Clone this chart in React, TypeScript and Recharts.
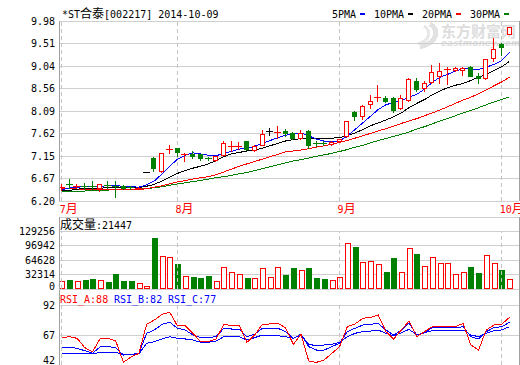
import React from 'react';
import { ComposedChart, Bar, Line, XAxis, YAxis, CartesianGrid, ReferenceLine } from 'recharts';

// ---------------- data ----------------
const stockName = '*ST合泰';
const stockCode = '002217';
const dateLabel = '2014-10-09';
const volumeTitle = '成交量';
const rsiNames = ['RSI_A', 'RSI_B', 'RSI_C'];
const rsiLastLabels = [88, 82, 77];
const maNames = ['5PMA', '10PMA', '20PMA', '30PMA'];

const months = ['7月', '8月', '9月', '10月'];
const monthStartIndex = [0, 15, 36, 57];

const priceTickLabels = ['6.20', '6.67', '7.15', '7.62', '8.09', '8.56', '9.04', '9.51', '9.98'];
const volumeTickLabels = ['0', '32314', '64628', '96942', '129256'];
const rsiTickLabels = ['42', '67', '92'];

const open = [6.49, 6.57, 6.51, 6.51, 6.51, 6.48, 6.55, 6.52, 6.51, 6.50, 6.46, 6.80, 7.10, 6.82, 7.28, 7.31, 7.18, 7.18, 7.18, 7.11, 7.06, 7.17, 7.35, 7.35, 7.45, 7.27, 7.38, 7.68, 7.65, 7.67, 7.62, 7.53, 7.66, 7.43, 7.42, 7.39, 7.46, 7.57, 8.07, 7.99, 8.24, 8.37, 8.36, 8.36, 8.16, 8.32, 8.72, 8.58, 8.70, 8.83, 8.97, 8.95, 8.95, 9.02, 8.82, 8.78, 9.21, 9.49, 9.71];
const high = [6.55, 6.66, 6.55, 6.58, 6.62, 6.55, 6.61, 6.62, 6.53, 6.51, 6.50, 6.80, 7.12, 7.20, 7.38, 7.32, 7.21, 7.24, 7.19, 7.13, 7.15, 7.46, 7.46, 7.44, 7.46, 7.37, 7.69, 7.74, 7.78, 7.72, 7.64, 7.69, 7.69, 7.45, 7.45, 7.45, 7.51, 7.89, 8.08, 8.21, 8.43, 8.64, 8.40, 8.39, 8.43, 8.78, 8.79, 8.72, 9.06, 9.10, 9.02, 9.02, 9.02, 9.04, 8.88, 9.18, 9.63, 9.51, 9.86];
const low = [6.43, 6.47, 6.48, 6.45, 6.45, 6.40, 6.47, 6.29, 6.46, 6.46, 6.45, 6.80, 6.84, 6.81, 7.20, 7.15, 7.05, 7.10, 7.06, 7.06, 7.05, 7.16, 7.25, 7.29, 7.27, 7.26, 7.37, 7.59, 7.52, 7.56, 7.50, 7.50, 7.31, 7.36, 7.37, 7.38, 7.44, 7.55, 7.90, 7.92, 8.15, 8.30, 8.27, 8.06, 8.14, 8.30, 8.50, 8.50, 8.67, 8.67, 8.65, 8.92, 8.85, 8.82, 8.67, 8.77, 9.13, 9.27, 9.71];
const close = [6.50, 6.56, 6.52, 6.50, 6.50, 6.55, 6.54, 6.51, 6.47, 6.47, 6.48, 6.80, 6.90, 7.20, 7.29, 7.22, 7.19, 7.14, 7.10, 7.10, 7.145, 7.41, 7.36, 7.36, 7.29, 7.36, 7.61, 7.68, 7.66, 7.62, 7.53, 7.635, 7.38, 7.41, 7.40, 7.445, 7.50, 7.88, 7.99, 8.195, 8.30, 8.39, 8.29, 8.11, 8.36, 8.76, 8.55, 8.67, 8.90, 8.93, 8.98, 9.00, 9.00, 8.83, 8.78, 9.18, 9.39, 9.44, 9.86];

const ma5 = [6.44, 6.47, 6.49, 6.50, 6.50, 6.51, 6.52, 6.52, 6.51, 6.50, 6.49, 6.54, 6.62, 6.77, 6.93, 7.08, 7.16, 7.21, 7.19, 7.16, 7.15, 7.20, 7.24, 7.29, 7.31, 7.35, 7.41, 7.47, 7.53, 7.58, 7.61, 7.63, 7.57, 7.50, 7.46, 7.45, 7.46, 7.57, 7.70, 7.84, 7.98, 8.12, 8.22, 8.27, 8.31, 8.38, 8.44, 8.55, 8.69, 8.80, 8.86, 8.93, 8.98, 8.97, 8.96, 9.01, 9.07, 9.15, 9.32];
const ma10 = [6.41, 6.42, 6.45, 6.46, 6.47, 6.47, 6.48, 6.48, 6.48, 6.48, 6.48, 6.51, 6.55, 6.62, 6.70, 6.78, 6.84, 6.89, 6.93, 6.98, 7.05, 7.13, 7.19, 7.22, 7.25, 7.27, 7.31, 7.36, 7.41, 7.46, 7.49, 7.51, 7.52, 7.52, 7.51, 7.52, 7.53, 7.57, 7.63, 7.70, 7.78, 7.84, 7.90, 7.97, 8.05, 8.16, 8.25, 8.33, 8.43, 8.51, 8.58, 8.63, 8.67, 8.73, 8.80, 8.86, 8.94, 9.02, 9.13];
const ma20 = [6.46, 6.46, 6.45, 6.45, 6.45, 6.44, 6.44, 6.44, 6.44, 6.44, 6.44, 6.46, 6.49, 6.52, 6.56, 6.60, 6.63, 6.66, 6.69, 6.71, 6.75, 6.81, 6.87, 6.93, 6.98, 7.03, 7.08, 7.13, 7.18, 7.23, 7.25, 7.27, 7.30, 7.33, 7.36, 7.39, 7.43, 7.47, 7.52, 7.57, 7.62, 7.67, 7.72, 7.77, 7.83, 7.88, 7.93, 7.99, 8.05, 8.11, 8.18, 8.25, 8.32, 8.38, 8.45, 8.53, 8.62, 8.70, 8.80];
const ma30 = [6.40, 6.40, 6.41, 6.41, 6.42, 6.42, 6.43, 6.44, 6.44, 6.45, 6.45, 6.46, 6.48, 6.50, 6.53, 6.56, 6.58, 6.61, 6.63, 6.66, 6.69, 6.71, 6.74, 6.77, 6.80, 6.84, 6.88, 6.92, 6.96, 7.00, 7.04, 7.07, 7.10, 7.14, 7.17, 7.20, 7.24, 7.28, 7.33, 7.37, 7.42, 7.47, 7.51, 7.56, 7.60, 7.65, 7.71, 7.76, 7.82, 7.88, 7.93, 7.99, 8.05, 8.10, 8.16, 8.22, 8.28, 8.33, 8.39];

const volume = [17800, 20000, 18000, 20000, 22000, 20000, 15600, 33000, 18000, 18000, 12600, 6700, 114000, 73500, 70600, 55700, 29000, 26700, 24500, 29000, 17800, 48000, 37000, 32700, 24500, 24500, 47500, 26000, 48000, 31000, 47500, 42000, 47500, 24500, 22000, 19000, 26700, 102000, 93600, 59500, 61700, 55000, 37900, 69000, 37000, 90700, 78000, 50600, 70600, 57000, 57000, 32700, 37000, 49000, 35600, 75000, 57000, 42000, 21447];

const rsiA = [64.8, 65.6, 64.2, 56.4, 53.1, 64.2, 64.2, 62.0, 44.2, 48.9, 51.7, 75.9, 79.5, 84.2, 85.9, 74.5, 74.8, 68.4, 61.4, 61.4, 63.7, 75.9, 74.8, 74.8, 60.9, 67.0, 75.9, 76.2, 76.7, 73.1, 59.2, 67.6, 45.3, 44.2, 46.2, 51.7, 57.3, 73.9, 76.2, 80.9, 81.7, 83.7, 69.8, 63.7, 71.2, 78.7, 65.6, 69.8, 73.9, 73.9, 73.9, 73.9, 76.7, 58.7, 54.5, 71.2, 75.3, 75.9, 81.7];
const rsiB = [56.4, 56.7, 55.9, 53.9, 51.7, 57.3, 57.3, 56.4, 50.3, 50.9, 51.7, 68.4, 71.2, 75.9, 77.6, 72.6, 71.2, 67.0, 64.8, 64.8, 65.6, 72.6, 72.0, 72.0, 65.6, 67.6, 72.6, 72.6, 72.6, 69.8, 64.2, 67.6, 57.3, 54.5, 54.5, 57.3, 60.1, 69.8, 72.6, 75.3, 75.9, 76.7, 71.2, 67.0, 71.2, 76.7, 67.0, 69.2, 73.1, 73.1, 73.1, 73.1, 73.9, 65.6, 63.7, 69.8, 73.1, 73.9, 77.6];
const rsiC = [51.7, 51.7, 51.7, 51.7, 51.2, 52.6, 52.6, 52.6, 50.3, 50.9, 51.2, 60.1, 61.4, 63.7, 65.6, 64.2, 63.7, 62.8, 60.9, 60.9, 62.0, 65.6, 65.6, 65.6, 62.8, 64.8, 67.0, 67.0, 66.4, 65.6, 64.2, 67.0, 59.2, 58.1, 58.7, 59.2, 60.9, 65.6, 68.4, 69.8, 70.3, 71.2, 68.4, 66.4, 68.9, 71.7, 67.0, 68.9, 70.6, 70.6, 70.6, 70.6, 71.2, 67.0, 65.6, 68.4, 70.6, 71.2, 73.9];

const data = open.map((o, i) => ({
  i,
  open: o,
  high: high[i],
  low: low[i],
  close: close[i],
  range: [low[i], high[i]],
  ma5: ma5[i],
  ma10: ma10[i],
  ma20: ma20[i],
  ma30: ma30[i],
  vol: volume[i],
  up: close[i] >= open[i],
  rsiA: rsiA[i],
  rsiB: rsiB[i],
  rsiC: rsiC[i],
}));

// ---------------- style / layout ----------------
const RED = '#ff0000';
const GREEN = '#008000';
const BLUE = '#0000ff';
const BLACK = '#000000';
const GRID = '#cfcfcf';
const FRAME = '#a0a0a0';
const DASH = '#c4c4c4';
const MONO = "'DejaVu Sans Mono', 'Noto Sans CJK SC', monospace";
const CJK = "'Noto Sans CJK SC', sans-serif";
const maColors = [BLUE, BLACK, RED, GREEN];

const W = 520;
const AXIS_W = 59;
const X_DOMAIN: [number, number] = [-0.35, 59.24];

const PMIN = Number(priceTickLabels[0]);
const PMAX = Number(priceTickLabels[priceTickLabels.length - 1]);
const priceTicks = priceTickLabels.map((_, k) => PMIN + (k * (PMAX - PMIN)) / (priceTickLabels.length - 1));

const VOL_H = 72; // panel incl. header
const VOL_PAD = 8; // extra room below so the "0" label is not clipped
const VOL_PLOT = 58; // grid part
const volumeTicksBase = volumeTickLabels.map(Number);
const VOL_TOP = (volumeTicksBase[volumeTicksBase.length - 1] * VOL_H) / VOL_PLOT;
const volumeTicks = [...volumeTicksBase, VOL_TOP];

const RSI_H = 76;
const RSI_PLOT = 60;
const rsiTicksBase = rsiTickLabels.map(Number);
const RSI_MIN = rsiTicksBase[0];
const RSI_MAXLBL = rsiTicksBase[rsiTicksBase.length - 1];
const RSI_TOP = RSI_MIN + ((RSI_MAXLBL - RSI_MIN) * RSI_H) / RSI_PLOT;
const rsiTicks = [...rsiTicksBase, RSI_TOP];

function makeYTick(values: number[], labels: string[], maxY: number) {
  return (props: any) => {
    const { y, payload } = props;
    const k = values.findIndex((v) => Math.abs(v - payload.value) < 1e-6);
    const label = k >= 0 ? labels[k] : '';
    if (!label) return <g />;
    const cy = Math.min(y, maxY);
    return (
      <text x={55} y={cy + 3.5} textAnchor="end" fontFamily={MONO} fontSize={10} fill={BLACK}>
        {label}
      </text>
    );
  };
}

const MonthTick = (props: any) => {
  const { x, payload } = props;
  const k = monthStartIndex.indexOf(payload.value);
  if (k < 0) return <g />;
  const label = months[k];
  const num = label.replace('月', '');
  return (
    <text x={x - 2} y={213} fontFamily={MONO} fontSize={10} fill={RED}>
      {num}
      <tspan fontFamily={CJK} fontSize={12}>月</tspan>
    </text>
  );
};

function Candle(props: any) {
  const { x, y, width, height, payload } = props;
  if (!payload || !Number.isFinite(x) || !Number.isFinite(y)) return <g />;
  const { open: o, close: c, high: h, low: l } = payload;
  const k = Math.round(x + width / 2 - 0.5);
  const cx = k + 0.5;
  const span = h - l;
  const hh = Number.isFinite(height) ? height : 0;
  const py = (p: number) => (span > 0 ? y + ((h - p) / span) * hh : y);
  const color = c > o ? RED : c < o ? GREEN : BLACK;
  const yH = Math.round(py(h));
  const yL = Math.round(py(l));
  const yTop = Math.round(py(Math.max(o, c)));
  const yBot = Math.round(py(Math.min(o, c)));
  if (yBot - yTop < 2) {
    const yy = Math.round((py(o) + py(c)) / 2) + 0.5;
    return (
      <g shapeRendering="crispEdges">
        {yL > yH && <line x1={cx} x2={cx} y1={yH} y2={yL + 1} stroke={color} />}
        <line x1={k - 3} x2={k + 4} y1={yy} y2={yy} stroke={color} />
      </g>
    );
  }
  if (c > o) {
    return (
      <g shapeRendering="crispEdges">
        {yTop > yH && <line x1={cx} x2={cx} y1={yH} y2={yTop} stroke={color} />}
        {yL > yBot && <line x1={cx} x2={cx} y1={yBot} y2={yL + 1} stroke={color} />}
        <rect x={k - 1.5} y={yTop + 0.5} width={4} height={yBot - yTop} fill="#ffffff" stroke={color} />
      </g>
    );
  }
  return (
    <g shapeRendering="crispEdges">
      <line x1={cx} x2={cx} y1={yH} y2={yL + 1} stroke={color} />
      <rect x={k - 2} y={yTop} width={5} height={yBot - yTop + 1} fill={color} />
    </g>
  );
}

function VolBar(props: any) {
  const { x, y, width, height, payload } = props;
  if (!payload || !Number.isFinite(x) || !Number.isFinite(y)) return <g />;
  const k = Math.round(x + width / 2 - 0.5);
  const top = Math.round(y);
  const bot = Math.round(y + height);
  if (payload.up) {
    return (
      <rect x={k - 1.5} y={top + 0.5} width={5} height={Math.max(bot - top - 1, 0)} fill="#ffffff" stroke={RED} shapeRendering="crispEdges" />
    );
  }
  return <rect x={k - 2} y={top} width={6} height={Math.max(bot - top, 0)} fill={GREEN} shapeRendering="crispEdges" />;
}

const monthLines = (y0: number, y1: number) =>
  monthStartIndex.map((m) => (
    <ReferenceLine
      key={'m' + m}
      segment={[{ x: m, y: y0 }, { x: m, y: y1 }]}
      stroke={DASH}
      strokeDasharray="4 3"
      ifOverflow="extendDomain"
    />
  ));

function Frame(domain: [number, number]) {
  return (
    <YAxis
      yAxisId="r"
      orientation="right"
      width={1}
      domain={domain}
      allowDataOverflow
      tick={false}
      tickLine={false}
      axisLine={{ stroke: FRAME }}
    />
  );
}

export default function App() {
  const legendItems: { x: number; dx: number; name: string; color: string }[] = [];
  let lx = 332;
  maNames.forEach((name, k) => {
    const dx = lx + name.length * 6 + 4;
    legendItems.push({ x: lx, dx, name, color: maColors[k] });
    lx = dx + 14;
  });

  return (
    <div
      className="kchart"
      style={{ position: 'absolute', left: 0, top: 0, width: W, height: 365, overflow: 'hidden', background: '#ffffff' }}
    >
      <style>{`.kchart svg { shape-rendering: crispEdges; } .kchart text { shape-rendering: auto; }`}</style>
      {/* watermark */}
      <svg style={{ position: 'absolute', left: 0, top: 0 }} width={W} height={365}>
        <path d="M430 24 C 440 30, 438 42, 420 47" stroke="#e2e2e2" strokeWidth={5} fill="none" />
        <path d="M424 26 C 432 32, 430 40, 418 44" stroke="#e8e8e8" strokeWidth={3} fill="none" />
        <text x={441} y={37} fontFamily={CJK} fontSize={15} fontWeight="bold" fill="#dddddd">
          东方财富网
        </text>
        <text x={441} y={46} fontFamily="'DejaVu Sans', sans-serif" fontSize={9} fontWeight="bold" fontStyle="italic" fill="#dddddd">
          eastmoney.com
        </text>
      </svg>

      {/* price panel */}
      <div style={{ position: 'absolute', left: 0, top: 0 }}>
        <ComposedChart width={W} height={216} data={data} margin={{ top: 21, right: 0, bottom: 0, left: 0 }}>
          <CartesianGrid vertical={false} stroke={GRID} />
          <XAxis
            dataKey="i"
            type="number"
            domain={X_DOMAIN}
            allowDataOverflow
            ticks={monthStartIndex}
            interval={0}
            tick={<MonthTick />}
            tickLine={false}
            axisLine={false}
            height={15}
          />
          <YAxis
            domain={[PMIN, PMAX]}
            allowDataOverflow
            ticks={priceTicks}
            interval={0}
            width={AXIS_W}
            tick={makeYTick(priceTicks, priceTickLabels, 1000)}
            tickLine={false}
            axisLine={{ stroke: FRAME }}
          />
          {Frame([PMIN, PMAX])}
          {monthLines(PMIN, PMAX)}
          <Line dataKey="ma30" stroke={GREEN} strokeWidth={1} dot={false} activeDot={false} isAnimationActive={false} />
          <Line dataKey="ma20" stroke={RED} strokeWidth={1} dot={false} activeDot={false} isAnimationActive={false} />
          <Line dataKey="ma10" stroke={BLACK} strokeWidth={1} dot={false} activeDot={false} isAnimationActive={false} />
          <Line dataKey="ma5" stroke={BLUE} strokeWidth={1} dot={false} activeDot={false} isAnimationActive={false} />
          <Bar dataKey="range" barSize={7} shape={(p: any) => <Candle {...p} />} isAnimationActive={false} {...({ zIndex: 450 } as any)} />
        </ComposedChart>
      </div>

      {/* RSI panel */}
      <div style={{ position: 'absolute', left: 0, top: 289 }}>
        <ComposedChart width={W} height={RSI_H} data={data} margin={{ top: 0, right: 0, bottom: 0, left: 0 }}>
          <CartesianGrid vertical={false} stroke={GRID} />
          <XAxis dataKey="i" type="number" domain={X_DOMAIN} allowDataOverflow hide />
          <YAxis
            domain={[RSI_MIN, RSI_TOP]}
            allowDataOverflow
            ticks={rsiTicks}
            interval={0}
            width={AXIS_W}
            tick={makeYTick(rsiTicks, rsiTickLabels, RSI_H - 5)}
            tickLine={false}
            axisLine={{ stroke: FRAME }}
          />
          {Frame([RSI_MIN, RSI_TOP])}
          {monthLines(RSI_MIN, RSI_MAXLBL)}
          <Line dataKey="rsiC" stroke={BLUE} strokeWidth={1} dot={false} activeDot={false} isAnimationActive={false} />
          <Line dataKey="rsiB" stroke={BLUE} strokeWidth={1} dot={false} activeDot={false} isAnimationActive={false} />
          <Line dataKey="rsiA" stroke={RED} strokeWidth={1} dot={false} activeDot={false} isAnimationActive={false} />
        </ComposedChart>
      </div>

      {/* volume panel (drawn after RSI so its labels sit on top) */}
      <div style={{ position: 'absolute', left: 0, top: 217 }}>
        <ComposedChart width={W} height={VOL_H + VOL_PAD} data={data} margin={{ top: 0, right: 0, bottom: VOL_PAD, left: 0 }}>
          <CartesianGrid vertical={false} stroke={GRID} />
          <XAxis dataKey="i" type="number" domain={X_DOMAIN} allowDataOverflow hide />
          <YAxis
            domain={[0, VOL_TOP]}
            allowDataOverflow
            ticks={volumeTicks}
            interval={0}
            width={AXIS_W}
            tick={makeYTick(volumeTicks, volumeTickLabels, VOL_H - 2.5)}
            tickLine={false}
            axisLine={{ stroke: FRAME }}
          />
          {Frame([0, VOL_TOP])}
          {monthLines(0, volumeTicksBase[volumeTicksBase.length - 1])}
          <Bar dataKey="vol" barSize={6} shape={(p: any) => <VolBar {...p} />} isAnimationActive={false} />
        </ComposedChart>
      </div>

      {/* header texts */}
      <svg style={{ position: 'absolute', left: 0, top: 0, pointerEvents: 'none' }} width={W} height={365}>
        <text x={62} y={18} fontFamily={MONO} fontSize={10} fill={BLACK}>
          {stockName.slice(0, 3)}
          <tspan fontFamily={CJK} fontSize={12}>{stockName.slice(3)}</tspan>
          <tspan>{`[${stockCode}] ${dateLabel}`}</tspan>
        </text>
        {legendItems.map((it) => (
          <g key={it.name}>
            <text x={it.x} y={18} fontFamily={MONO} fontSize={10} fill={BLACK}>
              {it.name}
            </text>
            <rect x={it.dx} y={12.5} width={5} height={2.5} fill={it.color} />
          </g>
        ))}
        <text x={60} y={229} fontFamily={MONO} fontSize={10} fill={BLACK}>
          <tspan fontFamily={CJK} fontSize={12}>{volumeTitle}</tspan>
          <tspan>{`:${volume[volume.length - 1]}`}</tspan>
        </text>
        {rsiNames.map((n, k) => (
          <text key={n} x={60 + k * 54} y={303} fontFamily={MONO} fontSize={10} fill={k === 0 ? RED : BLUE}>
            {`${n}:${rsiLastLabels[k]}`}
          </text>
        ))}
      </svg>
    </div>
  );
}
